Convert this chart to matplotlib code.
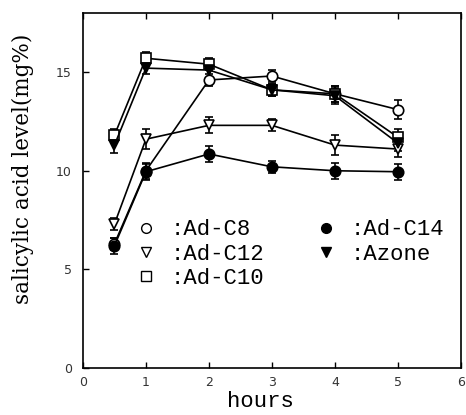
import matplotlib
matplotlib.use('Agg')
import matplotlib.pyplot as plt
from matplotlib.lines import Line2D

# data
hours = [0.5, 1, 2, 3, 4, 5]
c8 = [6.3, 10.0, 14.6, 14.8, 13.9, 13.1]
c8_err = [0.3, 0.4, 0.3, 0.3, 0.4, 0.5]
c12 = [7.3, 11.6, 12.3, 12.3, 11.3, 11.1]
c12_err = [0.3, 0.5, 0.4, 0.3, 0.5, 0.4]
c10 = [11.8, 15.7, 15.4, 14.1, 13.9, 11.7]
c10_err = [0.3, 0.3, 0.3, 0.3, 0.4, 0.4]
c14 = [6.2, 9.95, 10.85, 10.2, 10.0, 9.95]
c14_err = [0.4, 0.4, 0.4, 0.3, 0.4, 0.4]
azone = [11.3, 15.2, 15.1, 14.1, 13.8, 11.4]
azone_err = [0.4, 0.3, 0.4, 0.3, 0.4, 0.4]

labels = [':Ad-C8', ':Ad-C12', ':Ad-C10', ':Ad-C14', ':Azone']
series = [c8, c12, c10, c14, azone]
errors = [c8_err, c12_err, c10_err, c14_err, azone_err]
markers = ['o', 'v', 's', 'o', 'v']
faces = ['white', 'white', 'white', 'black', 'black']

fig = plt.figure(figsize=(4.66, 4.15), dpi=100)
ax = fig.add_axes([0.178, 0.113, 0.811, 0.856])

for y, e, m, fc in zip(series, errors, markers, faces):
    ax.errorbar(hours, y, yerr=e, marker=m, ms=7.5, mfc=fc, mec='black',
                mew=1.2, color='black', lw=1.2, ecolor='black',
                elinewidth=1.2, capsize=3, capthick=1.2)

handles = [Line2D([], [], ls='none', marker=m, ms=7, mfc=fc, mec='black',
                  mew=1.0)
           for m, fc in zip(markers, faces)]
ax.legend(handles, labels, ncol=2, loc='upper left',
          bbox_to_anchor=(0.078, 0.475), frameon=False,
          prop={'family': 'Liberation Mono', 'size': 16},
          handletextpad=0.5, columnspacing=2.2, labelspacing=0.15,
          handlelength=1.2)

ax.set_xlim(0, 6)
ax.set_ylim(0, 18)
ax.set_xticks(range(0, 7))
ax.set_yticks([0, 5, 10, 15])
ax.tick_params(direction='in', top=True, right=False, labelsize=9,
               labelcolor='#333333', length=4, width=1)
ax.tick_params(axis='y', pad=8)
ax.tick_params(axis='x', pad=6)
for s in ax.spines.values():
    s.set_linewidth(1.2)

ax.set_xlabel('hours', family='Liberation Mono', fontsize=16)
ax.xaxis.set_label_coords(0.47, -0.065)
ax.set_ylabel('salicylic acid level(mg%)', family='DejaVu Serif',
              fontsize=15.5)
ax.yaxis.set_label_coords(-0.13, 0.56)

fig.savefig('out.png', dpi=100)
